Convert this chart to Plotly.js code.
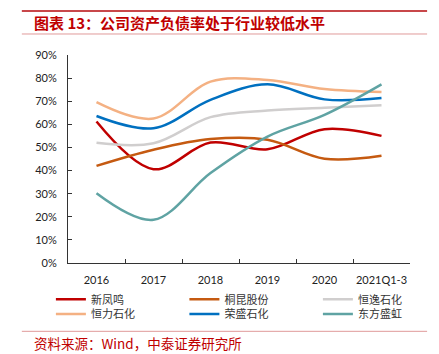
<!DOCTYPE html>
<html>
<head>
<meta charset="utf-8">
<script src="https://cdn.plot.ly/plotly-3.0.1.min.js"></script>
<style>html,body{margin:0;padding:0;background:#fff;}#chart{width:439px;height:354px;}</style>
</head>
<body>
<div id="chart"></div>
<script>
const categories = ['2016', '2017', '2018', '2019', '2020', '2021Q1-3'];
const seriesNames = ['新凤鸣', '桐昆股份', '恒逸石化', '恒力石化', '荣盛石化', '东方盛虹'];
const xinfengming = [0.612, 0.406, 0.521, 0.492, 0.579, 0.550];
const tongkun = [0.420, 0.490, 0.536, 0.533, 0.451, 0.464];
const hengyi = [0.520, 0.518, 0.631, 0.660, 0.672, 0.683];
const hengli = [0.696, 0.625, 0.785, 0.792, 0.753, 0.740];
const rongsheng = [0.636, 0.583, 0.706, 0.773, 0.708, 0.714];
const dongfang = [0.302, 0.187, 0.389, 0.547, 0.641, 0.773];
const colors = ['#C00000', '#C55A11', '#D0CECE', '#F4B183', '#0070C0', '#5FA3A3'];
const values = [xinfengming, tongkun, hengyi, hengli, rongsheng, dongfang];

const traces = values.map((v, i) => ({
  type: 'scatter', mode: 'lines', x: categories, y: v, name: seriesNames[i],
  legend: i < 3 ? 'legend' : 'legend2',
  line: {color: colors[i], width: 2.5, shape: 'spline', smoothing: 1}
}));

const legendBase = {
  orientation: 'h', x: -0.05, xanchor: 'left', yanchor: 'top',
  entrywidth: 88.5, entrywidthmode: 'pixels', traceorder: 'normal',
  font: {family: '"Noto Sans CJK SC", sans-serif', size: 11, color: '#333'},
  bgcolor: 'rgba(0,0,0,0)'
};

const layout = {
  width: 439, height: 354,
  margin: {l: 68, r: 29, t: 55, b: 91, autoexpand: false},
  paper_bgcolor: '#fff', plot_bgcolor: '#fff',
  font: {family: 'Lato, "Noto Sans CJK SC", sans-serif', size: 11, color: '#333'},
  showlegend: true,
  xaxis: {
    type: 'category', range: [-0.5, 5.5], showgrid: false, zeroline: false,
    showline: true, linecolor: '#333', linewidth: 1, tickangle: 0, automargin: false,
    ticks: 'inside', ticklen: 4, tickcolor: '#333', tickson: 'boundaries', ticklabelstandoff: 7,
    tickfont: {family: 'Lato, sans-serif', size: 11, color: '#222'}
  },
  yaxis: {
    range: [0, 0.9], dtick: 0.1, tickformat: '.0%', showgrid: false, zeroline: false,
    showline: true, linecolor: '#333', linewidth: 1, automargin: false,
    ticks: 'inside', ticklen: 4, tickcolor: '#333', ticklabelstandoff: 8,
    tickfont: {family: 'Lato, sans-serif', size: 11, color: '#222'}
  },
  legend: Object.assign({}, legendBase, {y: -0.105}),
  legend2: Object.assign({}, legendBase, {y: -0.175}),
  shapes: [
    {type: 'line', xref: 'paper', yref: 'paper', x0: -0.135, x1: 1.05, y0: 1.2115, y1: 1.2115, line: {color: '#C8474A', width: 2}},
    {type: 'line', xref: 'paper', yref: 'paper', x0: -0.135, x1: 1.05, y0: 1.101, y1: 1.101, line: {color: '#E09A9A', width: 1}},
    {type: 'line', xref: 'paper', yref: 'paper', x0: -0.135, x1: 1.05, y0: -0.3285, y1: -0.3285, line: {color: '#E09A9A', width: 1}}
  ],
  annotations: [
    {text: '<b>图表 13：公司资产负债率处于行业较低水平</b>', xref: 'paper', yref: 'paper',
     x: -0.106, y: 1.158, xanchor: 'left', yanchor: 'middle', showarrow: false,
     font: {family: '"Noto Sans CJK SC", sans-serif', size: 15, color: '#C00000'}},
    {text: '资料来源：Wind，中泰证券研究所', xref: 'paper', yref: 'paper',
     x: -0.106, y: -0.385, xanchor: 'left', yanchor: 'middle', showarrow: false,
     font: {family: '"Noto Sans CJK SC", sans-serif', size: 13.5, color: '#C00000'}}
  ]
};

Plotly.newPlot('chart', traces, layout, {displayModeBar: false, staticPlot: true});
</script>
</body>
</html>
